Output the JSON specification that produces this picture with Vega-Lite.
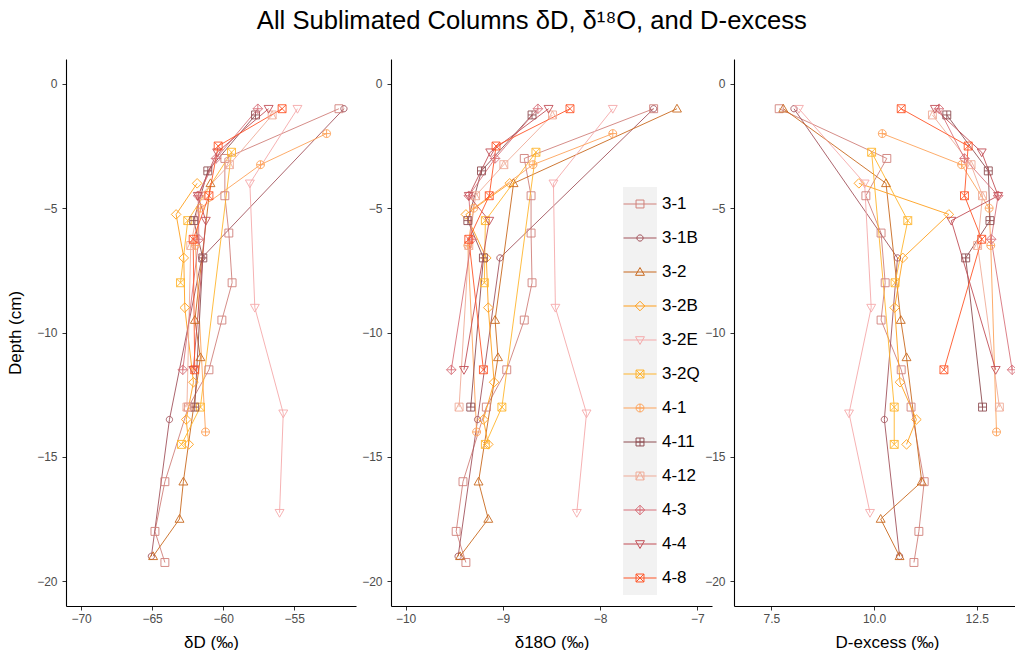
{
  "$schema": "https://vega.github.io/schema/vega-lite/v6.json",
  "padding": {"left": 6, "top": 9, "right": 0, "bottom": 0},
  "background": "white",
  "title": {"text": "All Sublimated Columns δD, δ¹⁸O, and D-excess", "fontSize": 25.6, "font": "Liberation Sans", "fontWeight": "normal", "color": "black", "anchor": "middle", "offset": 24, "dx": 21},
  "config": {
    "view": {"stroke": null},
    "font": "Liberation Sans",
    "axis": {"grid": false, "domainColor": "black", "domainWidth": 1.1, "tickColor": "#333333", "tickSize": 4, "labelFont": "Liberation Sans", "labelFontSize": 12, "labelColor": "#4d4d4d", "titleFont": "Liberation Sans", "titleFontSize": 17, "titleFontWeight": "normal", "titleColor": "black"},
    "axisX": {"labelPadding": 3, "titlePadding": 10},
    "axisY": {"labelPadding": 5, "titlePadding": 12}
  },
  "data": {"values": [
    {"series": "3-1", "depth": -1, "dD": -51.85, "d18O": -7.45, "dex": 7.69},
    {"series": "3-1", "depth": -3, "dD": -59.88, "d18O": -8.78, "dex": 10.31},
    {"series": "3-1", "depth": -4.5, "dD": -59.88, "d18O": -8.71, "dex": 9.8},
    {"series": "3-1", "depth": -6, "dD": -59.6, "d18O": -8.71, "dex": 10.17},
    {"series": "3-1", "depth": -8, "dD": -59.37, "d18O": -8.7, "dex": 10.27},
    {"series": "3-1", "depth": -9.5, "dD": -60.09, "d18O": -8.78, "dex": 10.17},
    {"series": "3-1", "depth": -11.5, "dD": -61.0, "d18O": -8.96, "dex": 10.66},
    {"series": "3-1", "depth": -13, "dD": -62.45, "d18O": -9.17, "dex": 10.9},
    {"series": "3-1", "depth": -16, "dD": -64.1, "d18O": -9.41, "dex": 11.22},
    {"series": "3-1", "depth": -18, "dD": -64.8, "d18O": -9.48, "dex": 11.09},
    {"series": "3-1", "depth": -19.25, "dD": -64.1, "d18O": -9.38, "dex": 10.97},
    {"series": "3-1B", "depth": -1, "dD": -51.5, "d18O": -7.45, "dex": 8.05},
    {"series": "3-1B", "depth": -7, "dD": -61.5, "d18O": -9.03, "dex": 10.57},
    {"series": "3-1B", "depth": -13.5, "dD": -63.78, "d18O": -9.26, "dex": 10.25},
    {"series": "3-1B", "depth": -19, "dD": -65.05, "d18O": -9.46, "dex": 10.62},
    {"series": "3-2", "depth": -1, "dD": null, "d18O": -7.21, "dex": 7.79},
    {"series": "3-2", "depth": -4, "dD": -60.89, "d18O": -8.89, "dex": 10.29},
    {"series": "3-2", "depth": -9.5, "dD": -61.99, "d18O": -9.08, "dex": 10.65},
    {"series": "3-2", "depth": -11, "dD": -61.6, "d18O": -9.05, "dex": 10.79},
    {"series": "3-2", "depth": -16, "dD": -62.8, "d18O": -9.25, "dex": 11.16},
    {"series": "3-2", "depth": -17.5, "dD": -63.07, "d18O": -9.15, "dex": 10.16},
    {"series": "3-2", "depth": -19, "dD": -64.93, "d18O": -9.44, "dex": 10.62},
    {"series": "3-2B", "depth": -4, "dD": -61.83, "d18O": -8.93, "dex": 9.63},
    {"series": "3-2B", "depth": -5.25, "dD": -63.31, "d18O": -9.38, "dex": 11.82},
    {"series": "3-2B", "depth": -7, "dD": -62.77, "d18O": -9.17, "dex": 10.7},
    {"series": "3-2B", "depth": -9, "dD": -62.7, "d18O": -9.15, "dex": 10.5},
    {"series": "3-2B", "depth": -12, "dD": -62.09, "d18O": -9.09, "dex": 10.63},
    {"series": "3-2B", "depth": -13.5, "dD": -62.6, "d18O": -9.2, "dex": 11.03},
    {"series": "3-2B", "depth": -14.5, "dD": -62.42, "d18O": -9.15, "dex": 10.79},
    {"series": "3-2E", "depth": -1, "dD": -54.77, "d18O": -7.87, "dex": 8.17},
    {"series": "3-2E", "depth": -4, "dD": -58.12, "d18O": -8.48, "dex": 9.77},
    {"series": "3-2E", "depth": -9, "dD": -57.77, "d18O": -8.46, "dex": 9.93},
    {"series": "3-2E", "depth": -13.25, "dD": -55.77, "d18O": -8.14, "dex": 9.39},
    {"series": "3-2E", "depth": -17.25, "dD": -56.03, "d18O": -8.24, "dex": 9.9},
    {"series": "3-2Q", "depth": -8, "dD": -63.0, "d18O": -9.19, "dex": 10.51},
    {"series": "3-2Q", "depth": -5.5, "dD": -62.49, "d18O": -9.18, "dex": 10.82},
    {"series": "3-2Q", "depth": -2.75, "dD": -59.41, "d18O": -8.66, "dex": 9.94},
    {"series": "3-2Q", "depth": -13, "dD": -61.6, "d18O": -9.01, "dex": 10.49},
    {"series": "3-2Q", "depth": -14.5, "dD": -62.93, "d18O": -9.18, "dex": 10.49},
    {"series": "4-1", "depth": -2, "dD": -52.72, "d18O": -7.87, "dex": 10.2},
    {"series": "4-1", "depth": -3.25, "dD": -57.37, "d18O": -8.69, "dex": 12.13},
    {"series": "4-1", "depth": -5, "dD": -61.6, "d18O": -9.3, "dex": 12.8},
    {"series": "4-1", "depth": -6.5, "dD": -61.95, "d18O": -9.36, "dex": 12.84},
    {"series": "4-1", "depth": -14, "dD": -61.24, "d18O": -9.27, "dex": 12.98},
    {"series": "4-11", "depth": -1.25, "dD": -57.72, "d18O": -8.7, "dex": 11.77},
    {"series": "4-11", "depth": -3.5, "dD": -61.08, "d18O": -9.22, "dex": 12.78},
    {"series": "4-11", "depth": -5.5, "dD": -62.07, "d18O": -9.36, "dex": 12.82},
    {"series": "4-11", "depth": -7, "dD": -61.43, "d18O": -9.2, "dex": 12.23},
    {"series": "4-11", "depth": -13, "dD": -62.0, "d18O": -9.33, "dex": 12.64},
    {"series": "4-12", "depth": -1.25, "dD": -56.55, "d18O": -8.49, "dex": 11.42},
    {"series": "4-12", "depth": -3.25, "dD": -59.56, "d18O": -8.99, "dex": 12.36},
    {"series": "4-12", "depth": -4.5, "dD": -61.6, "d18O": -9.28, "dex": 12.64},
    {"series": "4-12", "depth": -6.5, "dD": -62.28, "d18O": -9.35, "dex": 12.52},
    {"series": "4-12", "depth": -13, "dD": -62.55, "d18O": -9.45, "dex": 13.05},
    {"series": "4-3", "depth": -1, "dD": -57.56, "d18O": -8.64, "dex": 11.58},
    {"series": "4-3", "depth": -3, "dD": -60.5, "d18O": -9.08, "dex": 12.2},
    {"series": "4-3", "depth": -4.5, "dD": -61.76, "d18O": -9.35, "dex": 13.02},
    {"series": "4-3", "depth": -6.25, "dD": -61.71, "d18O": -9.32, "dex": 12.85},
    {"series": "4-3", "depth": -11.5, "dD": -62.84, "d18O": -9.53, "dex": 13.36},
    {"series": "4-4", "depth": -1, "dD": -56.8, "d18O": -8.53, "dex": 11.48},
    {"series": "4-4", "depth": -2.75, "dD": -60.42, "d18O": -9.13, "dex": 12.62},
    {"series": "4-4", "depth": -4.5, "dD": -61.78, "d18O": -9.35, "dex": 13.02},
    {"series": "4-4", "depth": -5.5, "dD": -61.22, "d18O": -9.14, "dex": 11.88},
    {"series": "4-4", "depth": -11.5, "dD": -62.1, "d18O": -9.4, "dex": 12.96},
    {"series": "4-8", "depth": -1, "dD": -55.85, "d18O": -8.31, "dex": 10.66},
    {"series": "4-8", "depth": -2.5, "dD": -60.35, "d18O": -9.07, "dex": 12.29},
    {"series": "4-8", "depth": -4.5, "dD": -61.0, "d18O": -9.14, "dex": 12.2},
    {"series": "4-8", "depth": -6.25, "dD": -62.11, "d18O": -9.35, "dex": 12.62},
    {"series": "4-8", "depth": -11.5, "dD": -62.0, "d18O": -9.2, "dex": 11.7}
  ]},
  "spacing": 35,
  "bounds": "flush",
  "resolve": {"scale": {"color": "independent", "shape": "independent", "stroke": "independent"}, "legend": {"color": "independent", "shape": "independent", "stroke": "independent"}},
  "hconcat": [
    {
      "width": 290, "height": 547,
      "transform": [{"filter": {"field": "dD", "valid": true}}],
      "encoding": {
        "x": {"field": "dD", "type": "quantitative", "scale": {"domain": [-71.06, -50.65], "nice": false, "zero": false}, "axis": {"values": [-70, -65, -60, -55], "title": "δD (‰)"}},
        "y": {"field": "depth", "type": "quantitative", "scale": {"domain": [-21, 1], "nice": false, "zero": false}, "axis": {"values": [0, -5, -10, -15, -20], "title": "Depth (cm)"}},
        "color": {"field": "series", "type": "nominal", "legend": null, "scale": {"domain": ["3-1", "3-1B", "3-2", "3-2B", "3-2E", "3-2Q", "4-1", "4-11", "4-12", "4-3", "4-4", "4-8"], "range": ["#d0807a", "#a3545c", "#c8691e", "#ff9f1c", "#f5a9aa", "#ffb52e", "#fda35a", "#8e4e52", "#efab97", "#d8737c", "#c24f57", "#ff5527"]}}
      },
      "layer": [
        {"mark": {"type": "line", "strokeWidth": 0.9, "clip": true}, "encoding": {"order": {"value": null}}},
        {"mark": {"type": "point", "filled": false, "size": 1089, "strokeWidth": 0.9, "opacity": 1, "clip": true},
         "encoding": {"shape": {"field": "series", "type": "nominal", "legend": null, "scale": {"domain": ["3-1", "3-1B", "3-2", "3-2B", "3-2E", "3-2Q", "4-1", "4-11", "4-12", "4-3", "4-4", "4-8"], "range": ["M-1,-1M1,1M-0.24,-0.24H0.24V0.24H-0.24Z", "M-1,-1M1,1M-0.19,0A0.19,0.19 0 1,0 0.19,0A0.19,0.19 0 1,0 -0.19,0Z", "M-1,-1M1,1M0,-0.27L0.27,0.2L-0.27,0.2Z", "M-1,-1M1,1M0,-0.29L0.29,0L0,0.29L-0.29,0Z", "M-1,-1M1,1M0,0.27L0.27,-0.2L-0.27,-0.2Z", "M-1,-1M1,1M-0.24,-0.24H0.24V0.24H-0.24ZM-0.24,-0.24L0.24,0.24M0.24,-0.24L-0.24,0.24", "M-1,-1M1,1M-0.24,0A0.24,0.24 0 1,0 0.24,0A0.24,0.24 0 1,0 -0.24,0ZM-0.24,0H0.24M0,-0.24V0.24", "M-1,-1M1,1M-0.24,-0.24H0.24V0.24H-0.24ZM-0.24,0H0.24M0,-0.24V0.24", "M-1,-1M1,1M-0.24,-0.24H0.24V0.24H-0.24ZM-0.24,0.24L0,-0.24L0.24,0.24", "M-1,-1M1,1M0,-0.29L0.29,0L0,0.29L-0.29,0ZM-0.29,0H0.29M0,-0.29V0.29", "M-1,-1M1,1M0,0.27L0.27,-0.2L-0.27,-0.2Z", "M-1,-1M1,1M-0.24,-0.24H0.24V0.24H-0.24ZM-0.24,-0.24L0.24,0.24M0.24,-0.24L-0.24,0.24"]}}}}
      ]
    },
    {
      "spacing": 22,
      "bounds": "flush",
      "resolve": {"scale": {"color": "independent", "shape": "independent", "stroke": "independent"}, "legend": {"color": "independent", "shape": "independent", "stroke": "independent"}},
      "hconcat": [
        {
          "width": 321, "height": 547,
          "encoding": {
            "x": {"field": "d18O", "type": "quantitative", "scale": {"domain": [-10.15, -6.85], "nice": false, "zero": false}, "axis": {"values": [-10, -9, -8, -7], "title": "δ18O (‰)"}},
            "y": {"field": "depth", "type": "quantitative", "scale": {"domain": [-21, 1], "nice": false, "zero": false}, "axis": {"values": [0, -5, -10, -15, -20], "title": null}}
          },
          "layer": [
            {"mark": {"type": "line", "strokeWidth": 0.9, "clip": true},
             "encoding": {
               "order": {"value": null},
               "stroke": {"field": "series", "type": "nominal",
                 "scale": {"domain": ["3-1", "3-1B", "3-2", "3-2B", "3-2E", "3-2Q", "4-1", "4-11", "4-12", "4-3", "4-4", "4-8", "~"], "range": ["#d0807a", "#a3545c", "#c8691e", "#ff9f1c", "#f5a9aa", "#ffb52e", "#fda35a", "#8e4e52", "#efab97", "#d8737c", "#c24f57", "#ff5527", "#000000"]},
                 "legend": {"title": null, "orient": "none", "legendX": 232, "legendY": 128, "padding": 0, "offset": 0, "rowPadding": 0, "clipHeight": 34, "values": ["3-1", "3-1B", "3-2", "3-2B", "3-2E", "3-2Q", "4-1", "4-11", "4-12", "4-3", "4-4", "4-8"], "symbolType": "M0,-1M0,1M-1,0H1", "symbolSize": 1089, "symbolStrokeWidth": 1, "labelExpr": "''", "labelOffset": 0, "fillColor": "#f2f2f2"}}
             }},
            {"mark": {"type": "point", "filled": false, "size": 1089, "strokeWidth": 0.9, "opacity": 1, "clip": true},
             "encoding": {
               "color": {"field": "series", "type": "nominal", "scale": {"domain": ["3-1", "3-1B", "3-2", "3-2B", "3-2E", "3-2Q", "4-1", "4-11", "4-12", "4-3", "4-4", "4-8"], "range": ["#d0807a", "#a3545c", "#c8691e", "#ff9f1c", "#f5a9aa", "#ffb52e", "#fda35a", "#8e4e52", "#efab97", "#d8737c", "#c24f57", "#ff5527"]},
                 "legend": {"title": null, "orient": "none", "legendX": 232, "legendY": 128, "padding": 0, "offset": 0, "rowPadding": 0, "clipHeight": 34, "symbolSize": 1089, "symbolStrokeWidth": 1, "labelFontSize": 17, "labelFont": "Liberation Sans", "labelColor": "black", "labelOffset": 5}},
               "shape": {"field": "series", "type": "nominal", "scale": {"domain": ["3-1", "3-1B", "3-2", "3-2B", "3-2E", "3-2Q", "4-1", "4-11", "4-12", "4-3", "4-4", "4-8"], "range": ["M-1,-1M1,1M-0.24,-0.24H0.24V0.24H-0.24Z", "M-1,-1M1,1M-0.19,0A0.19,0.19 0 1,0 0.19,0A0.19,0.19 0 1,0 -0.19,0Z", "M-1,-1M1,1M0,-0.27L0.27,0.2L-0.27,0.2Z", "M-1,-1M1,1M0,-0.29L0.29,0L0,0.29L-0.29,0Z", "M-1,-1M1,1M0,0.27L0.27,-0.2L-0.27,-0.2Z", "M-1,-1M1,1M-0.24,-0.24H0.24V0.24H-0.24ZM-0.24,-0.24L0.24,0.24M0.24,-0.24L-0.24,0.24", "M-1,-1M1,1M-0.24,0A0.24,0.24 0 1,0 0.24,0A0.24,0.24 0 1,0 -0.24,0ZM-0.24,0H0.24M0,-0.24V0.24", "M-1,-1M1,1M-0.24,-0.24H0.24V0.24H-0.24ZM-0.24,0H0.24M0,-0.24V0.24", "M-1,-1M1,1M-0.24,-0.24H0.24V0.24H-0.24ZM-0.24,0.24L0,-0.24L0.24,0.24", "M-1,-1M1,1M0,-0.29L0.29,0L0,0.29L-0.29,0ZM-0.29,0H0.29M0,-0.29V0.29", "M-1,-1M1,1M0,0.27L0.27,-0.2L-0.27,-0.2Z", "M-1,-1M1,1M-0.24,-0.24H0.24V0.24H-0.24ZM-0.24,-0.24L0.24,0.24M0.24,-0.24L-0.24,0.24"]},
                 "legend": {"title": null, "orient": "none", "legendX": 232, "legendY": 128, "padding": 0, "offset": 0, "rowPadding": 0, "clipHeight": 34, "symbolSize": 1089, "symbolStrokeWidth": 1, "labelFontSize": 17, "labelFont": "Liberation Sans", "labelColor": "black", "labelOffset": 5}}
             }}
          ]
        },
        {
          "width": 281, "height": 547,
          "encoding": {
            "x": {"field": "dex", "type": "quantitative", "scale": {"domain": [6.59, 13.43], "nice": false, "zero": false}, "axis": {"values": [7.5, 10, 12.5], "format": ".1f", "title": "D-excess (‰)", "titleX": 153}},
            "y": {"field": "depth", "type": "quantitative", "scale": {"domain": [-21, 1], "nice": false, "zero": false}, "axis": {"values": [0, -5, -10, -15, -20], "title": null}},
            "color": {"field": "series", "type": "nominal", "legend": null, "scale": {"domain": ["3-1", "3-1B", "3-2", "3-2B", "3-2E", "3-2Q", "4-1", "4-11", "4-12", "4-3", "4-4", "4-8"], "range": ["#d0807a", "#a3545c", "#c8691e", "#ff9f1c", "#f5a9aa", "#ffb52e", "#fda35a", "#8e4e52", "#efab97", "#d8737c", "#c24f57", "#ff5527"]}}
          },
          "layer": [
            {"mark": {"type": "line", "strokeWidth": 0.9, "clip": true}, "encoding": {"order": {"value": null}}},
            {"mark": {"type": "point", "filled": false, "size": 1089, "strokeWidth": 0.9, "opacity": 1, "clip": true},
             "encoding": {"shape": {"field": "series", "type": "nominal", "legend": null, "scale": {"domain": ["3-1", "3-1B", "3-2", "3-2B", "3-2E", "3-2Q", "4-1", "4-11", "4-12", "4-3", "4-4", "4-8"], "range": ["M-1,-1M1,1M-0.24,-0.24H0.24V0.24H-0.24Z", "M-1,-1M1,1M-0.19,0A0.19,0.19 0 1,0 0.19,0A0.19,0.19 0 1,0 -0.19,0Z", "M-1,-1M1,1M0,-0.27L0.27,0.2L-0.27,0.2Z", "M-1,-1M1,1M0,-0.29L0.29,0L0,0.29L-0.29,0Z", "M-1,-1M1,1M0,0.27L0.27,-0.2L-0.27,-0.2Z", "M-1,-1M1,1M-0.24,-0.24H0.24V0.24H-0.24ZM-0.24,-0.24L0.24,0.24M0.24,-0.24L-0.24,0.24", "M-1,-1M1,1M-0.24,0A0.24,0.24 0 1,0 0.24,0A0.24,0.24 0 1,0 -0.24,0ZM-0.24,0H0.24M0,-0.24V0.24", "M-1,-1M1,1M-0.24,-0.24H0.24V0.24H-0.24ZM-0.24,0H0.24M0,-0.24V0.24", "M-1,-1M1,1M-0.24,-0.24H0.24V0.24H-0.24ZM-0.24,0.24L0,-0.24L0.24,0.24", "M-1,-1M1,1M0,-0.29L0.29,0L0,0.29L-0.29,0ZM-0.29,0H0.29M0,-0.29V0.29", "M-1,-1M1,1M0,0.27L0.27,-0.2L-0.27,-0.2Z", "M-1,-1M1,1M-0.24,-0.24H0.24V0.24H-0.24ZM-0.24,-0.24L0.24,0.24M0.24,-0.24L-0.24,0.24"]}}}}
          ]
        }
      ]
    }
  ]
}
